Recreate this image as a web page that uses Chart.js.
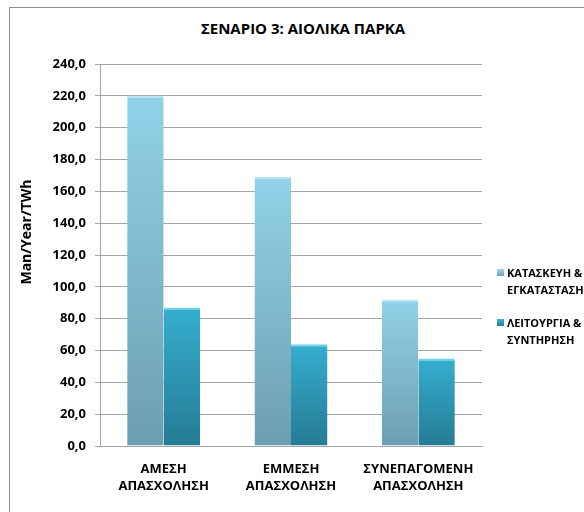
<!DOCTYPE html>
<html>
<head>
<meta charset="utf-8">
<script src="https://cdn.jsdelivr.net/npm/chart.js@4.4.1/dist/chart.umd.min.js"></script>
<style>
  html, body { margin: 0; padding: 0; background: #fff; overflow: hidden; }
  body { width: 584px; height: 512px; position: relative; font-family: "Open Sans", "Noto Sans", sans-serif; }
  #frame { position: absolute; left: 9px; top: 7px; width: 600px; height: 520px; border-left: 1px solid #8f8f8f; border-top: 1px solid #8f8f8f; }
  #wrap { position: absolute; left: 10px; top: 8px; width: 574px; height: 504px; }
  #title { position: absolute; left: 0; width: 606px; top: 18px; text-align: center; font-weight: 700; font-size: 15px; color: #000; line-height: 20px; }
  .leg { position: absolute; left: 497px; font-size: 11px; font-weight: 700; color: #000; line-height: 17px; }
  .leg .sw { position: absolute; left: 0; top: 5px; width: 7px; height: 7px; }
  .leg .tx { position: absolute; left: 10px; top: 0; white-space: nowrap; }
</style>
</head>
<body>
<div id="frame"></div>
<div id="title">ΣΕΝΑΡΙΟ 3: ΑΙΟΛΙΚΑ ΠΑΡΚΑ</div>
<div id="wrap"><canvas id="c" width="574" height="504"></canvas></div>
<div class="leg" style="top:264px"><div class="sw" style="background:linear-gradient(#9fd8ec,#6fa2b6)"></div><div class="tx">ΚΑΤΑΣΚΕΥΗ &amp;<br>ΕΓΚΑΤΑΣΤΑΣΗ</div></div>
<div class="leg" style="top:314px"><div class="sw" style="background:linear-gradient(#3cb4d4,#267c96)"></div><div class="tx">ΛΕΙΤΟΥΡΓΙΑ &amp;<br>ΣΥΝΤΗΡΗΣΗ</div></div>
<script>
const categories = [["ΑΜΕΣΗ", "ΑΠΑΣΧΟΛΗΣΗ"], ["ΕΜΜΕΣΗ", "ΑΠΑΣΧΟΛΗΣΗ"], ["ΣΥΝΕΠΑΓΟΜΕΝΗ", "ΑΠΑΣΧΟΛΗΣΗ"]];
const seriesNames = ["ΚΑΤΑΣΚΕΥΗ & ΕΓΚΑΤΑΣΤΑΣΗ", "ΛΕΙΤΟΥΡΓΙΑ & ΣΥΝΤΗΡΗΣΗ"];
const construction = [220, 169, 92];
const operation = [87, 64, 55];
const yTicks = [0, 20, 40, 60, 80, 100, 120, 140, 160, 180, 200, 220, 240];
const yTitle = "Man/Year/TWh";

function barGrad(top, bottom) {
  return function (ctx) {
    const chart = ctx.chart;
    const ys = chart.scales && chart.scales.y;
    if (!ys || !chart.chartArea || ctx.type !== 'data') return top;
    const v = ctx.dataset.data[ctx.dataIndex];
    const y0 = ys.getPixelForValue(v);
    const y1 = ys.getPixelForValue(0);
    if (!isFinite(y0) || !isFinite(y1)) return top;
    const g = chart.ctx.createLinearGradient(0, y0, 0, y1);
    g.addColorStop(0, top);
    g.addColorStop(1, bottom);
    return g;
  };
}

const yTitlePlugin = {
  id: 'yTitle',
  afterDraw(chart) {
    const c = chart.ctx;
    c.save();
    c.translate(17, 224);
    c.rotate(-Math.PI / 2);
    c.font = '700 14px "Open Sans"';
    c.fillStyle = '#000';
    c.textAlign = 'center';
    c.textBaseline = 'middle';
    c.fillText(yTitle, 0, 0);
    c.restore();
  }
};

new Chart(document.getElementById('c'), {
  type: 'bar',
  data: {
    labels: categories,
    datasets: [
      { label: seriesNames[0], data: construction, backgroundColor: barGrad('#92d2e8', '#6c9eb2'),
        borderColor: '#b8e6f3', borderWidth: { top: 2, left: 0, right: 0, bottom: 0 }, borderSkipped: false },
      { label: seriesNames[1], data: operation, backgroundColor: barGrad('#36aecf', '#257b94'),
        borderColor: '#6fd3ec', borderWidth: { top: 2, left: 0, right: 0, bottom: 0 }, borderSkipped: false }
    ]
  },
  options: {
    responsive: false,
    animation: false,
    events: [],
    layout: { padding: { left: 0, right: 102, top: 56, bottom: 0 } },
    datasets: { bar: { categoryPercentage: 0.573, barPercentage: 1 } },
    plugins: { legend: { display: false }, title: { display: false }, tooltip: { enabled: false } },
    scales: {
      x: {
        grid: { display: false },
        border: { display: true, color: '#a6a6a6' },
        ticks: { color: '#000', font: { family: 'Open Sans', weight: '700', size: 13, lineHeight: 1.3 }, padding: 7, maxRotation: 0, autoSkip: false },
        afterFit: s => { s.height = 66; }
      },
      y: {
        min: 0, max: 240,
        afterBuildTicks: s => { s.ticks = yTicks.map(v => ({ value: v })); },
        grid: { color: '#a6a6a6', tickLength: 5, lineWidth: 1 },
        border: { display: true, color: '#a6a6a6' },
        ticks: { color: '#000', font: { family: 'Open Sans', weight: '700', size: 13 }, padding: 9,
          callback: v => Number(v).toFixed(1).replace('.', ',') },
        afterFit: s => { s.width = 90; }
      }
    }
  },
  plugins: [yTitlePlugin]
});
</script>
</body>
</html>
